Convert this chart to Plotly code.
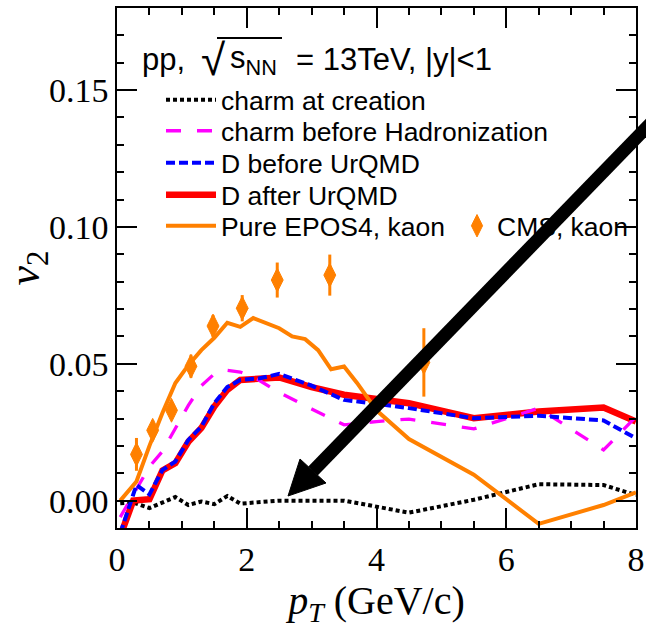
import plotly.graph_objects as go

# ---- data ----
creation_x = [0.05, 0.25, 0.5, 0.7, 0.9, 1.1, 1.3, 1.5, 1.7, 1.9, 2.2, 2.5, 3.0, 3.5, 4.0, 4.5, 5.5, 6.5, 7.5, 8.0]
creation_y = [-0.001, -0.0007, -0.0027, -0.0005, 0.0013, -0.0016, -0.0003, -0.0013, 0.0017, -0.0011, -0.0006, 0.0, 0.0, 0.0, -0.0022, -0.0044, 0.0003, 0.006, 0.0057, 0.002]

hadron_x = [0.05, 0.3, 0.5, 0.7, 0.9, 1.1, 1.3, 1.5, 1.7, 1.9, 2.1, 2.5, 3.0, 3.5, 4.0, 4.5, 5.5, 6.5, 7.5, 8.0]
hadron_y = [-0.006, 0.004, 0.0124, 0.018, 0.0264, 0.0348, 0.042, 0.0463, 0.0476, 0.047, 0.0453, 0.0395, 0.0335, 0.0277, 0.0289, 0.0298, 0.0262, 0.0338, 0.0185, 0.0307]

dbefore_x = [0.05, 0.3, 0.5, 0.7, 0.9, 1.1, 1.3, 1.5, 1.7, 1.9, 2.2, 2.5, 3.0, 3.5, 4.0, 4.5, 5.5, 6.5, 7.5, 8.0]
dbefore_y = [-0.012, 0.0057, 0.0023, 0.0112, 0.0143, 0.0222, 0.027, 0.0356, 0.0415, 0.0441, 0.0447, 0.0463, 0.042, 0.0368, 0.0354, 0.0338, 0.0301, 0.031, 0.0293, 0.0228]

dafter_x = [0.05, 0.25, 0.5, 0.7, 0.9, 1.1, 1.3, 1.5, 1.7, 1.9, 2.5, 3.0, 3.5, 4.0, 4.5, 5.5, 6.5, 7.5, 8.0]
dafter_y = [-0.013, 0.0, 0.0005, 0.011, 0.0137, 0.0215, 0.0265, 0.0344, 0.0405, 0.0441, 0.045, 0.0415, 0.0387, 0.037, 0.0356, 0.0301, 0.0326, 0.034, 0.0289]

epos_x = [0.05, 0.3, 0.5, 0.7, 0.9, 1.1, 1.3, 1.5, 1.7, 1.9, 2.1, 2.3, 2.5, 2.7, 2.9, 3.1, 3.3, 3.5, 3.7, 4.0, 4.5, 5.5, 6.5, 7.5, 8.0]
epos_y = [0.0, 0.007, 0.020, 0.032, 0.043, 0.0495, 0.055, 0.0595, 0.065, 0.0635, 0.0667, 0.065, 0.063, 0.060, 0.059, 0.055, 0.048, 0.049, 0.043, 0.033, 0.0225, 0.0095, -0.0085, -0.0016, 0.003]

cms_x = [0.3, 0.55, 0.84, 1.14, 1.48, 1.93, 2.47, 3.28, 4.73]
cms_y = [0.0169, 0.0257, 0.033, 0.0491, 0.0638, 0.0703, 0.0806, 0.0824, 0.0505]
cms_err = [0.006, 0.0037, 0.003, 0.0042, 0.004, 0.0048, 0.0064, 0.0075, 0.0125]

x_ticks = [0, 2, 4, 6, 8]
y_ticks = [0.0, 0.05, 0.10, 0.15]
y_tick_text = ["0.00", "0.05", "0.10", "0.15"]

# ---- figure ----
W, H = 646, 628
ML, MR, MT, MB = 117, 10, 8, 100
PW, PH = W - ML - MR, H - MT - MB


def px2paper(px, py):
    return (px - ML) / PW, (H - MB - py) / PH


fig = go.Figure()

SANS = "Liberation Sans, Arial, sans-serif"
SERIF = "Liberation Serif, Times New Roman, serif"
legend_font = dict(family=SANS, size=26.5, color="black")
row_py = [100, 131, 163, 195, 226]

series = [
    ("charm at creation", creation_x, creation_y, dict(color="black", width=4, dash="4px,3px"), "legend"),
    ("charm before Hadronization", hadron_x, hadron_y, dict(color="#ff00ff", width=3.3, dash="15px,16px"), "legend2"),
    ("D before UrQMD", dbefore_x, dbefore_y, dict(color="#0000ff", width=4, dash="9px,4px"), "legend4"),
    ("D after UrQMD", dafter_x, dafter_y, dict(color="#ff0000", width=6.5), "legend3"),
    ("Pure EPOS4, kaon", epos_x, epos_y, dict(color="#ff8000", width=4), "legend5"),
]
# draw order: red below blue dashed
order = [0, 3, 1, 2, 4]
for i in order:
    name, xs, ys, line, lg = series[i]
    fig.add_trace(go.Scatter(x=xs, y=ys, mode="lines", name=name, line=line,
                             legend=lg, showlegend=True))

fig.add_trace(go.Scatter(
    x=cms_x, y=cms_y, mode="markers", name="CMS, kaon", legend="legend6",
    marker=dict(symbol="diamond-tall", size=17, color="#ff8000", line=dict(width=1, color="#ff8000")),
    error_y=dict(type="data", array=cms_err, color="#ff8000", thickness=3, width=0),
))

legend_map = {"legend": 0, "legend2": 1, "legend4": 2, "legend3": 3, "legend5": 4}
legends = {}
for lg, row in legend_map.items():
    lx, ly = px2paper(161, row_py[row])
    legends[lg] = dict(x=lx, y=ly, xanchor="left", yanchor="middle", bgcolor="rgba(0,0,0,0)",
                       font=legend_font, itemwidth=50, borderwidth=0)
lx, ly = px2paper(457, row_py[4])
legends["legend6"] = dict(x=lx, y=ly, xanchor="left", yanchor="middle", bgcolor="rgba(0,0,0,0)",
                          font=legend_font, itemwidth=30, borderwidth=0)

axis_common = dict(
    showline=True, linecolor="black", linewidth=1.5, mirror="allticks",
    ticks="inside", ticklen=20, tickwidth=1.5, tickcolor="black",
    showgrid=False, zeroline=False, automargin=False,
    tickfont=dict(family=SERIF, size=34, color="black"),
)

fig.update_layout(
    width=W, height=H,
    margin=dict(l=ML, r=MR, t=MT, b=MB, autoexpand=False),
    paper_bgcolor="white", plot_bgcolor="white",
    xaxis=dict(range=[0, 8], tickvals=x_ticks, ticktext=[str(v) for v in x_ticks],
               minor=dict(dtick=0.5, tick0=0, ticks="inside", ticklen=7, tickwidth=1.5, tickcolor="black"),
               title=dict(text="<i>p</i><sub><i>T</i></sub> (GeV/c)",
                          font=dict(family=SERIF, size=40, color="black"),
                          standoff=17),
               **axis_common),
    yaxis=dict(range=[-0.01, 0.18], tickvals=y_ticks, ticktext=y_tick_text,
               minor=dict(dtick=0.01, tick0=0, ticks="inside", ticklen=7, tickwidth=1.5, tickcolor="black"),
               title=dict(text="<i>v</i><sub>2</sub>",
                          font=dict(family=SERIF, size=44, color="black"),
                          standoff=16),
               **axis_common),
    **legends,
)

# legend heading: pp, sqrt(s_NN) = 13TeV, |y|<1
head_font = dict(family=SANS, size=31, color="black")
for text, px, py, fsize in [
    ("pp,", 140, 60, 31),
    ("√", 199, 60, 44),
    ("s<sub>NN</sub>", 228, 60, 31),
    ("= 13TeV, |y|&lt;1", 294, 60, 31),
]:
    ax_, ay_ = px2paper(px, py)
    fig.add_annotation(xref="paper", yref="paper", x=ax_, y=ay_, xanchor="left", yanchor="middle",
                       showarrow=False, text=text, font=dict(family=SANS, size=fsize, color="black"))
o0 = px2paper(217, 38)
o1 = px2paper(282, 38)
fig.add_shape(type="line", xref="paper", yref="paper", x0=o0[0], y0=o0[1], x1=o1[0], y1=o1[1],
              line=dict(color="black", width=2), layer="above")

# big black arrow overlay
tip = px2paper(288, 496)
b1 = px2paper(300, 459)
b2 = px2paper(326, 483)
mid = px2paper(313, 471)
tail = px2paper(680, 93)
fig.add_shape(type="line", xref="paper", yref="paper", x0=mid[0], y0=mid[1], x1=tail[0], y1=tail[1],
              line=dict(color="black", width=13), layer="above")
fig.add_shape(type="path", xref="paper", yref="paper",
              path=f"M {tip[0]},{tip[1]} L {b1[0]},{b1[1]} L {b2[0]},{b2[1]} Z",
              fillcolor="black", line=dict(color="black", width=1), layer="above")

fig.write_html("out.html", config={"displayModeBar": False},
               post_script="document.body.style.margin='0';document.body.style.overflow='hidden';")
